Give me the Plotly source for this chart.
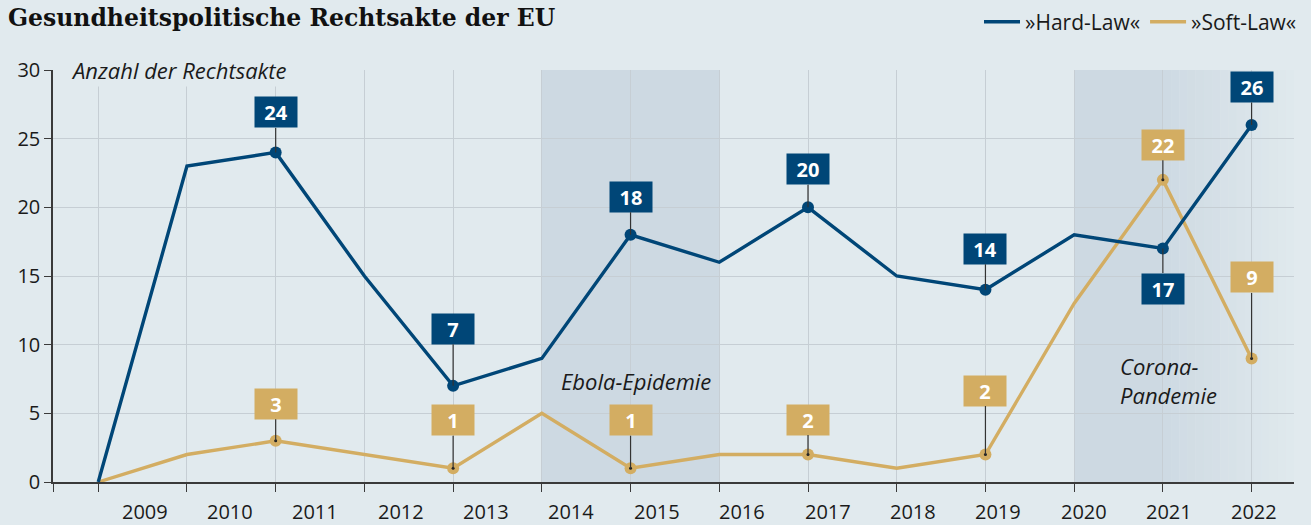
import numpy as np
import plotly.graph_objects as go

# ---------------- data ----------------
years = ["2009", "2010", "2011", "2012", "2013", "2014", "2015",
         "2016", "2017", "2018", "2019", "2020", "2021", "2022"]
hard_law = [0, 23, 24, 15, 7, 9, 18, 16, 20, 15, 14, 18, 17, 26]
soft_law = [0, 2, 3, 2, 1, 5, 1, 2, 2, 1, 2, 13, 22, 9]
labelled_idx = [2, 4, 6, 8, 10, 12, 13]
y_ticks = [0, 5, 10, 15, 20, 25, 30]

# ---------------- styling ----------------
BG = "#e1eaee"
SHADE = "#cdd9e2"
BLUE = "#004677"
GOLD = "#d3ad62"
GRID = "#c6ced4"
AX = "#3a3a3a"
TXT = "#1a1a1a"
FONT = "Open Sans, Liberation Sans, sans-serif"

# label box pixel offsets (placement only)
hard_off = {2: -40, 4: -57, 6: -38, 8: -38, 10: -41, 12: 40, 13: -38}
soft_off = {2: -37, 4: -48, 6: -48, 8: -35, 10: -64, 12: -35, 13: -81}

x = list(range(len(years)))
x_left, x_right = -0.51, 13.478

fig = go.Figure()

fig.add_trace(go.Scatter(x=x, y=soft_law, mode="lines", name="»Soft-Law«",
                         line=dict(color=GOLD, width=3.4), hoverinfo="skip",
                         showlegend=False))
fig.add_trace(go.Scatter(x=x, y=hard_law, mode="lines", name="»Hard-Law«",
                         line=dict(color=BLUE, width=3.4), hoverinfo="skip",
                         showlegend=False))
# legend entries
fig.add_trace(go.Scatter(x=[None], y=[None], mode="lines", name="»Hard-Law«",
                         line=dict(color=BLUE, width=3.5)))
fig.add_trace(go.Scatter(x=[None], y=[None], mode="lines", name="»Soft-Law«",
                         line=dict(color=GOLD, width=3.5)))

# markers at labelled points
fig.add_trace(go.Scatter(x=labelled_idx, y=[soft_law[i] for i in labelled_idx],
                         mode="markers", marker=dict(color=GOLD, size=12),
                         showlegend=False, hoverinfo="skip"))
fig.add_trace(go.Scatter(x=labelled_idx, y=[soft_law[i] for i in labelled_idx],
                         mode="markers", marker=dict(color="#222", size=3),
                         showlegend=False, hoverinfo="skip"))
fig.add_trace(go.Scatter(x=labelled_idx, y=[hard_law[i] for i in labelled_idx],
                         mode="markers", marker=dict(color=BLUE, size=12),
                         showlegend=False, hoverinfo="skip"))

shapes = []
# Ebola shading
shapes.append(dict(type="rect", xref="x", yref="y", x0=5, x1=7, y0=0, y1=30,
                   fillcolor=SHADE, line=dict(width=0), layer="below"))
# Corona shading with fade
shapes.append(dict(type="rect", xref="x", yref="y", x0=11, x1=12, y0=0, y1=30,
                   fillcolor=SHADE, line=dict(width=0), layer="below"))
n = 16
edges = np.linspace(12, x_right, n + 1)
for k in range(n):
    op = 1 - (k + 0.5) / n
    shapes.append(dict(type="rect", xref="x", yref="y", x0=edges[k], x1=edges[k + 1],
                       y0=0, y1=30, fillcolor=SHADE, opacity=op,
                       line=dict(width=0), layer="below"))

annotations = []
for i in labelled_idx:
    annotations.append(dict(x=i, y=hard_law[i], xref="x", yref="y",
                            text="<b>%d</b>" % hard_law[i], showarrow=True,
                            arrowhead=0, arrowwidth=1.2, arrowcolor="#333",
                            ax=0, ay=hard_off[i], width=42, height=30,
                            bgcolor=BLUE, borderpad=0, standoff=0,
                            font=dict(color="white", size=20, family=FONT)))
    annotations.append(dict(x=i, y=soft_law[i], xref="x", yref="y",
                            text="<b>%d</b>" % soft_law[i], showarrow=True,
                            arrowhead=0, arrowwidth=1.2, arrowcolor="#333",
                            ax=0, ay=soft_off[i], width=42, height=30,
                            bgcolor=GOLD, borderpad=0, standoff=0,
                            font=dict(color="white", size=20, family=FONT)))

# year labels (offset from the tick marks as in the source)
label_pos = np.linspace(0.524, 13.03, len(years))
for p, t in zip(label_pos, years):
    annotations.append(dict(x=p, y=0, xref="x", yref="y", yshift=-29,
                            text=t, showarrow=False,
                            font=dict(size=20, color=TXT, family=FONT)))

annotations.append(dict(x=-0.33, y=30, xref="x", yref="y", xanchor="left",
                        text="<i>Anzahl der Rechtsakte</i>", showarrow=False,
                        bgcolor=BG, font=dict(size=22, color=TXT, family=FONT)))
annotations.append(dict(x=6.06, y=7.36, xref="x", yref="y",
                        text="<i>Ebola-Epidemie</i>", showarrow=False,
                        font=dict(size=22, color=TXT, family=FONT)))
annotations.append(dict(x=11.49, y=7.4, xref="x", yref="y", xanchor="left",
                        align="left", text="<i>Corona-<br>Pandemie</i>",
                        showarrow=False,
                        font=dict(size=22, color=TXT, family=FONT)))

fig.update_layout(
    width=1311, height=525,
    paper_bgcolor=BG, plot_bgcolor=BG,
    margin=dict(l=53, r=17, t=70, b=43),
    title=dict(text="<b>Gesundheitspolitische Rechtsakte der EU</b>",
               x=8 / 1311, xref="container", xanchor="left",
               y=1 - 18 / 525, yref="container", yanchor="middle",
               font=dict(family="DejaVu Serif, serif", size=23.5, color="#111")),
    showlegend=True,
    legend=dict(orientation="h", x=1302 / 1311, xref="container", xanchor="right",
                y=1 - 22 / 525, yref="container", yanchor="middle",
                font=dict(size=21, family=FONT, color=TXT),
                bgcolor="rgba(0,0,0,0)", itemwidth=36, tracegroupgap=0),
    shapes=shapes,
    annotations=annotations,
    xaxis=dict(range=[x_left, x_right], tickvals=[x_left] + x,
               ticktext=[""] * (len(x) + 1), ticks="outside", ticklen=8,
               tickcolor=AX, showgrid=True, gridcolor=GRID, gridwidth=1,
               showline=True, linecolor=AX, linewidth=1.5, zeroline=False,
               fixedrange=True),
    yaxis=dict(range=[0, 30], tickvals=y_ticks, ticks="outside", ticklen=7,
               tickcolor=AX, showgrid=True, gridcolor=GRID, gridwidth=1,
               showline=True, linecolor=AX, linewidth=1.5, zeroline=False,
               tickfont=dict(size=20, family=FONT, color=TXT),
               fixedrange=True),
    font=dict(family=FONT),
)

fig.write_html("out.html", config={"displayModeBar": False},
               post_script="document.body.style.margin='0';document.body.style.overflow='hidden';")
